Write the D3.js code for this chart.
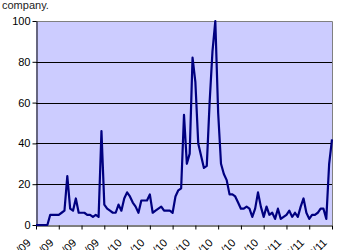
<!DOCTYPE html>
<html>
<head>
<meta charset="utf-8">
<script src="https://cdn.jsdelivr.net/npm/d3@7"></script>
<style>
  html, body { margin: 0; padding: 0; background: #fff; overflow: hidden; }
  svg { display: block; font-family: "Liberation Sans", Arial, sans-serif; }
</style>
</head>
<body>
<div id="chart"></div>
<script>
// weekly search interest
const values = [
  0, 0, 0, 0, 0, 5, 5, 5, 5, 6,
  7, 24, 8, 7, 13, 6, 6, 6, 5, 5,
  4, 5, 4, 46, 10, 8, 7, 6, 6, 10,
  7, 13, 16, 14, 11, 9, 6, 12, 12, 12,
  15, 6, 7, 8, 9, 7, 7, 7, 6, 14,
  17, 18, 54, 30, 35, 82, 70, 40, 34, 28,
  29, 60, 85, 100, 55, 30, 25, 22, 15, 15,
  14, 11, 8, 8, 9, 8, 4, 8, 16, 9,
  4, 9, 5, 6, 3, 8, 3, 4, 5, 7,
  4, 6, 4, 9, 13, 6, 3, 5, 5, 6,
  8, 8, 3, 30, 42
];
const tickIndex = [0, 8, 16, 24, 32, 40, 48, 56, 64, 72, 80, 88, 96, 104];
const tickLabels = ["7/06/09", "2/08/09", "27/09/09", "22/11/09", "17/01/10", "14/03/10", "9/05/10",
  "4/07/10", "29/08/10", "24/10/10", "19/12/10", "13/02/11", "10/04/11", "5/06/11"];
const yTicks = [0, 20, 40, 60, 80, 100];
const title = "company.";

const width = 344;
const height = 250;
const margin = { top: 21, right: 12, bottom: 25, left: 36 };

const svg = d3.select("#chart")
    .append("svg")
    .attr("width", width)
    .attr("height", height);

const x = d3.scaleLinear()
    .domain([0, values.length - 1])
    .range([margin.left, width - margin.right]);

const y = d3.scaleLinear()
    .domain([0, 100])
    .range([height - margin.bottom, margin.top]);

svg.append("text")
    .attr("x", 2)
    .attr("y", 9)
    .attr("font-size", 11)
    .attr("fill", "#222")
    .text(title);

// plot area
svg.append("rect")
    .attr("x", x(0))
    .attr("y", y(100))
    .attr("width", x(values.length - 1) - x(0))
    .attr("height", y(0) - y(100))
    .attr("fill", "#ccccff");

// grid lines
svg.append("g")
    .selectAll("line")
    .data(yTicks.filter(d => d > 0 && d < 100))
    .enter().append("line")
    .attr("x1", x(0))
    .attr("x2", x(values.length - 1))
    .attr("y1", d => Math.round(y(d)) + 0.5)
    .attr("y2", d => Math.round(y(d)) + 0.5)
    .attr("stroke", "#000")
    .attr("stroke-width", 1);

// top and right border
svg.append("path")
    .attr("d", `M${x(0)},${Math.round(y(100)) + 0.5}H${Math.round(x(values.length - 1)) + 0.5}V${y(0)}`)
    .attr("fill", "none")
    .attr("stroke", "#808080");

const yAxis = svg.append("g")
    .attr("transform", `translate(${x(0) + 0.5},0)`)
    .call(d3.axisLeft(y).tickValues(yTicks).tickSize(4).tickSizeOuter(0).tickPadding(2));
yAxis.select(".domain").attr("stroke", "#000");
yAxis.selectAll(".tick line").attr("stroke", "#000");
yAxis.selectAll("text")
    .attr("font-size", 11)
    .attr("font-family", "Liberation Sans, Arial, sans-serif")
    .attr("fill", "#000");

const xAxis = svg.append("g")
    .attr("transform", `translate(0,${Math.round(y(0)) + 0.5})`)
    .call(d3.axisBottom(x).tickValues(tickIndex).tickSize(4).tickSizeOuter(0)
        .tickFormat((d, i) => tickLabels[i]));
xAxis.select(".domain").attr("stroke", "#000");
xAxis.selectAll(".tick line").attr("stroke", "#000");
xAxis.selectAll("text")
    .attr("font-size", 11)
    .attr("font-family", "Liberation Sans, Arial, sans-serif")
    .attr("fill", "#000")
    .attr("text-anchor", "end")
    .attr("dy", 0)
    .attr("transform", "translate(-5,18) rotate(-45)")
    .attr("y", 0);

const line = d3.line()
    .x((d, i) => x(i))
    .y(d => y(d));

svg.append("path")
    .datum(values)
    .attr("fill", "none")
    .attr("stroke", "#000080")
    .attr("stroke-width", 2.2)
    .attr("stroke-linejoin", "round")
    .attr("d", line);
</script>
</body>
</html>
